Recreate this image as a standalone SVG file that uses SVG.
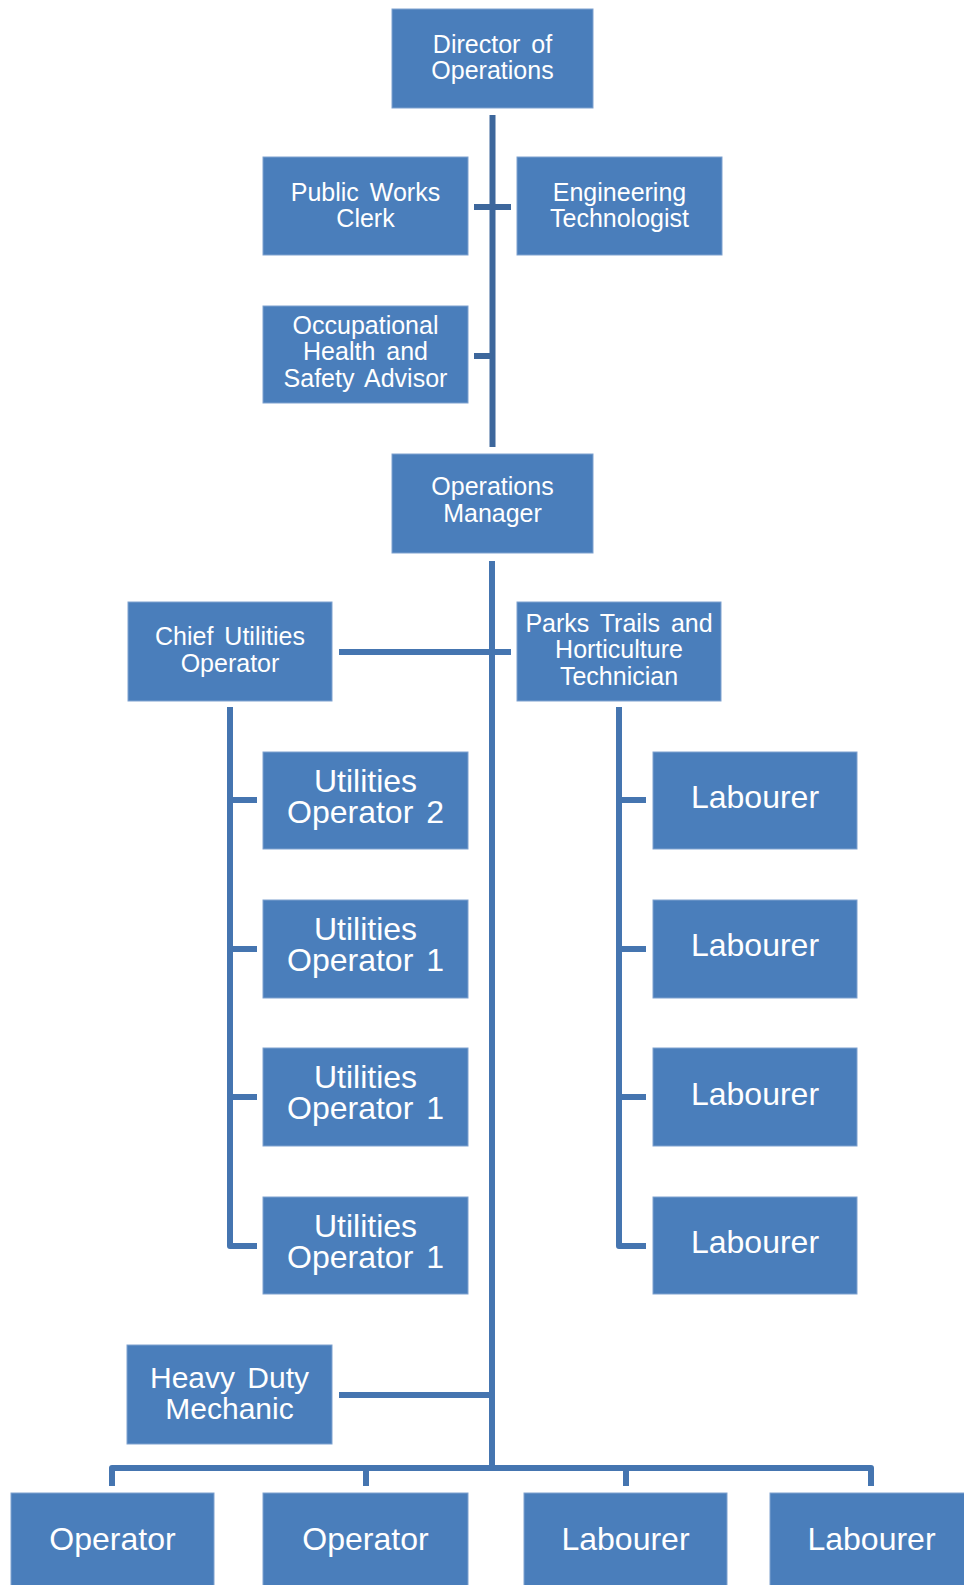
<svg xmlns="http://www.w3.org/2000/svg" width="964" height="1585" viewBox="0 0 964 1585">
<style>
.box{fill:#4A7EBB;stroke:#7FA2CF;stroke-width:1}
.t{font-family:"Liberation Sans",Arial,sans-serif;fill:#FFFFFF;text-anchor:middle}
.s{font-size:25px;word-spacing:4px}
.b{font-size:32px;word-spacing:4px}
.c{fill:none;stroke:#4575B0;stroke-width:6;stroke-linejoin:round}
.d{stroke:#3D679C}
</style>
<rect width="964" height="1585" fill="#FFFFFF"/>
<g id="connectors">
<path class="c d" d="M492.5 115 V447"/>
<path class="c d" d="M474 207 H511"/>
<path class="c d" d="M474 356 H492.5"/>
<path class="c" d="M492 561 V1468"/>
<path class="c" d="M339 652 H511"/>
<path class="c" d="M230 707 V1246 H257"/>
<path class="c" d="M230 800 H257 M230 949 H257 M230 1097 H257"/>
<path class="c" d="M619 707 V1246 H646"/>
<path class="c" d="M619 800 H646 M619 949 H646 M619 1097 H646"/>
<path class="c" d="M339 1395 H492"/>
<path class="c" d="M112 1486 V1468 H871 V1486"/>
<path class="c" d="M366 1468 V1486 M626 1468 V1486"/>
</g>
<g id="director"><rect class="box" x="392" y="9" width="201" height="99"/><text class="t s" x="492.5" y="53">Director of</text><text class="t s" x="492.5" y="79">Operations</text></g>
<g id="pwclerk"><rect class="box" x="263" y="157" width="205" height="98"/><text class="t s" x="365.5" y="201">Public Works</text><text class="t s" x="365.5" y="227">Clerk</text></g>
<g id="engtech"><rect class="box" x="517" y="157" width="205" height="98"/><text class="t s" x="619.5" y="201">Engineering</text><text class="t s" x="619.5" y="227">Technologist</text></g>
<g id="ohs"><rect class="box" x="263" y="306" width="205" height="97"/><text class="t s" x="365.5" y="334">Occupational</text><text class="t s" x="365.5" y="360">Health and</text><text class="t s" x="365.5" y="386.5">Safety Advisor</text></g>
<g id="opsmgr"><rect class="box" x="392" y="454" width="201" height="99"/><text class="t s" x="492.5" y="495">Operations</text><text class="t s" x="492.5" y="521.5">Manager</text></g>
<g id="chief"><rect class="box" x="128" y="602" width="204" height="99"/><text class="t s" x="230" y="645">Chief Utilities</text><text class="t s" x="230" y="671.5">Operator</text></g>
<g id="parks"><rect class="box" x="517" y="602" width="204" height="99"/><text class="t s" x="619" y="631.5">Parks Trails and</text><text class="t s" x="619" y="658">Horticulture</text><text class="t s" x="619" y="685">Technician</text></g>
<g id="uo2"><rect class="box" x="263" y="752" width="205" height="97"/><text class="t b" x="365.5" y="792">Utilities</text><text class="t b" x="365.5" y="823">Operator 2</text></g>
<g id="uo1a"><rect class="box" x="263" y="900" width="205" height="98"/><text class="t b" x="365.5" y="940">Utilities</text><text class="t b" x="365.5" y="971">Operator 1</text></g>
<g id="uo1b"><rect class="box" x="263" y="1048" width="205" height="98"/><text class="t b" x="365.5" y="1088">Utilities</text><text class="t b" x="365.5" y="1119">Operator 1</text></g>
<g id="uo1c"><rect class="box" x="263" y="1197" width="205" height="97"/><text class="t b" x="365.5" y="1237">Utilities</text><text class="t b" x="365.5" y="1268">Operator 1</text></g>
<g id="lab1"><rect class="box" x="653" y="752" width="204" height="97"/><text class="t b" x="755" y="808">Labourer</text></g>
<g id="lab2"><rect class="box" x="653" y="900" width="204" height="98"/><text class="t b" x="755" y="956">Labourer</text></g>
<g id="lab3"><rect class="box" x="653" y="1048" width="204" height="98"/><text class="t b" x="755" y="1105">Labourer</text></g>
<g id="lab4"><rect class="box" x="653" y="1197" width="204" height="97"/><text class="t b" x="755" y="1253">Labourer</text></g>
<g id="hdm"><rect class="box" x="127" y="1345" width="205" height="99"/><text class="t" style="font-size:30px;word-spacing:4px" x="229.5" y="1388">Heavy Duty</text><text class="t" style="font-size:30px" x="229.5" y="1418.5">Mechanic</text></g>
<g id="op1"><rect class="box" x="11" y="1493" width="203" height="100"/><text class="t b" x="112.5" y="1550">Operator</text></g>
<g id="op2"><rect class="box" x="263" y="1493" width="205" height="100"/><text class="t b" x="365.5" y="1550">Operator</text></g>
<g id="lab5"><rect class="box" x="524" y="1493" width="203" height="100"/><text class="t b" x="625.5" y="1550">Labourer</text></g>
<g id="lab6"><rect class="box" x="770" y="1493" width="203" height="100"/><text class="t b" x="871.5" y="1550">Labourer</text></g>
</svg>
